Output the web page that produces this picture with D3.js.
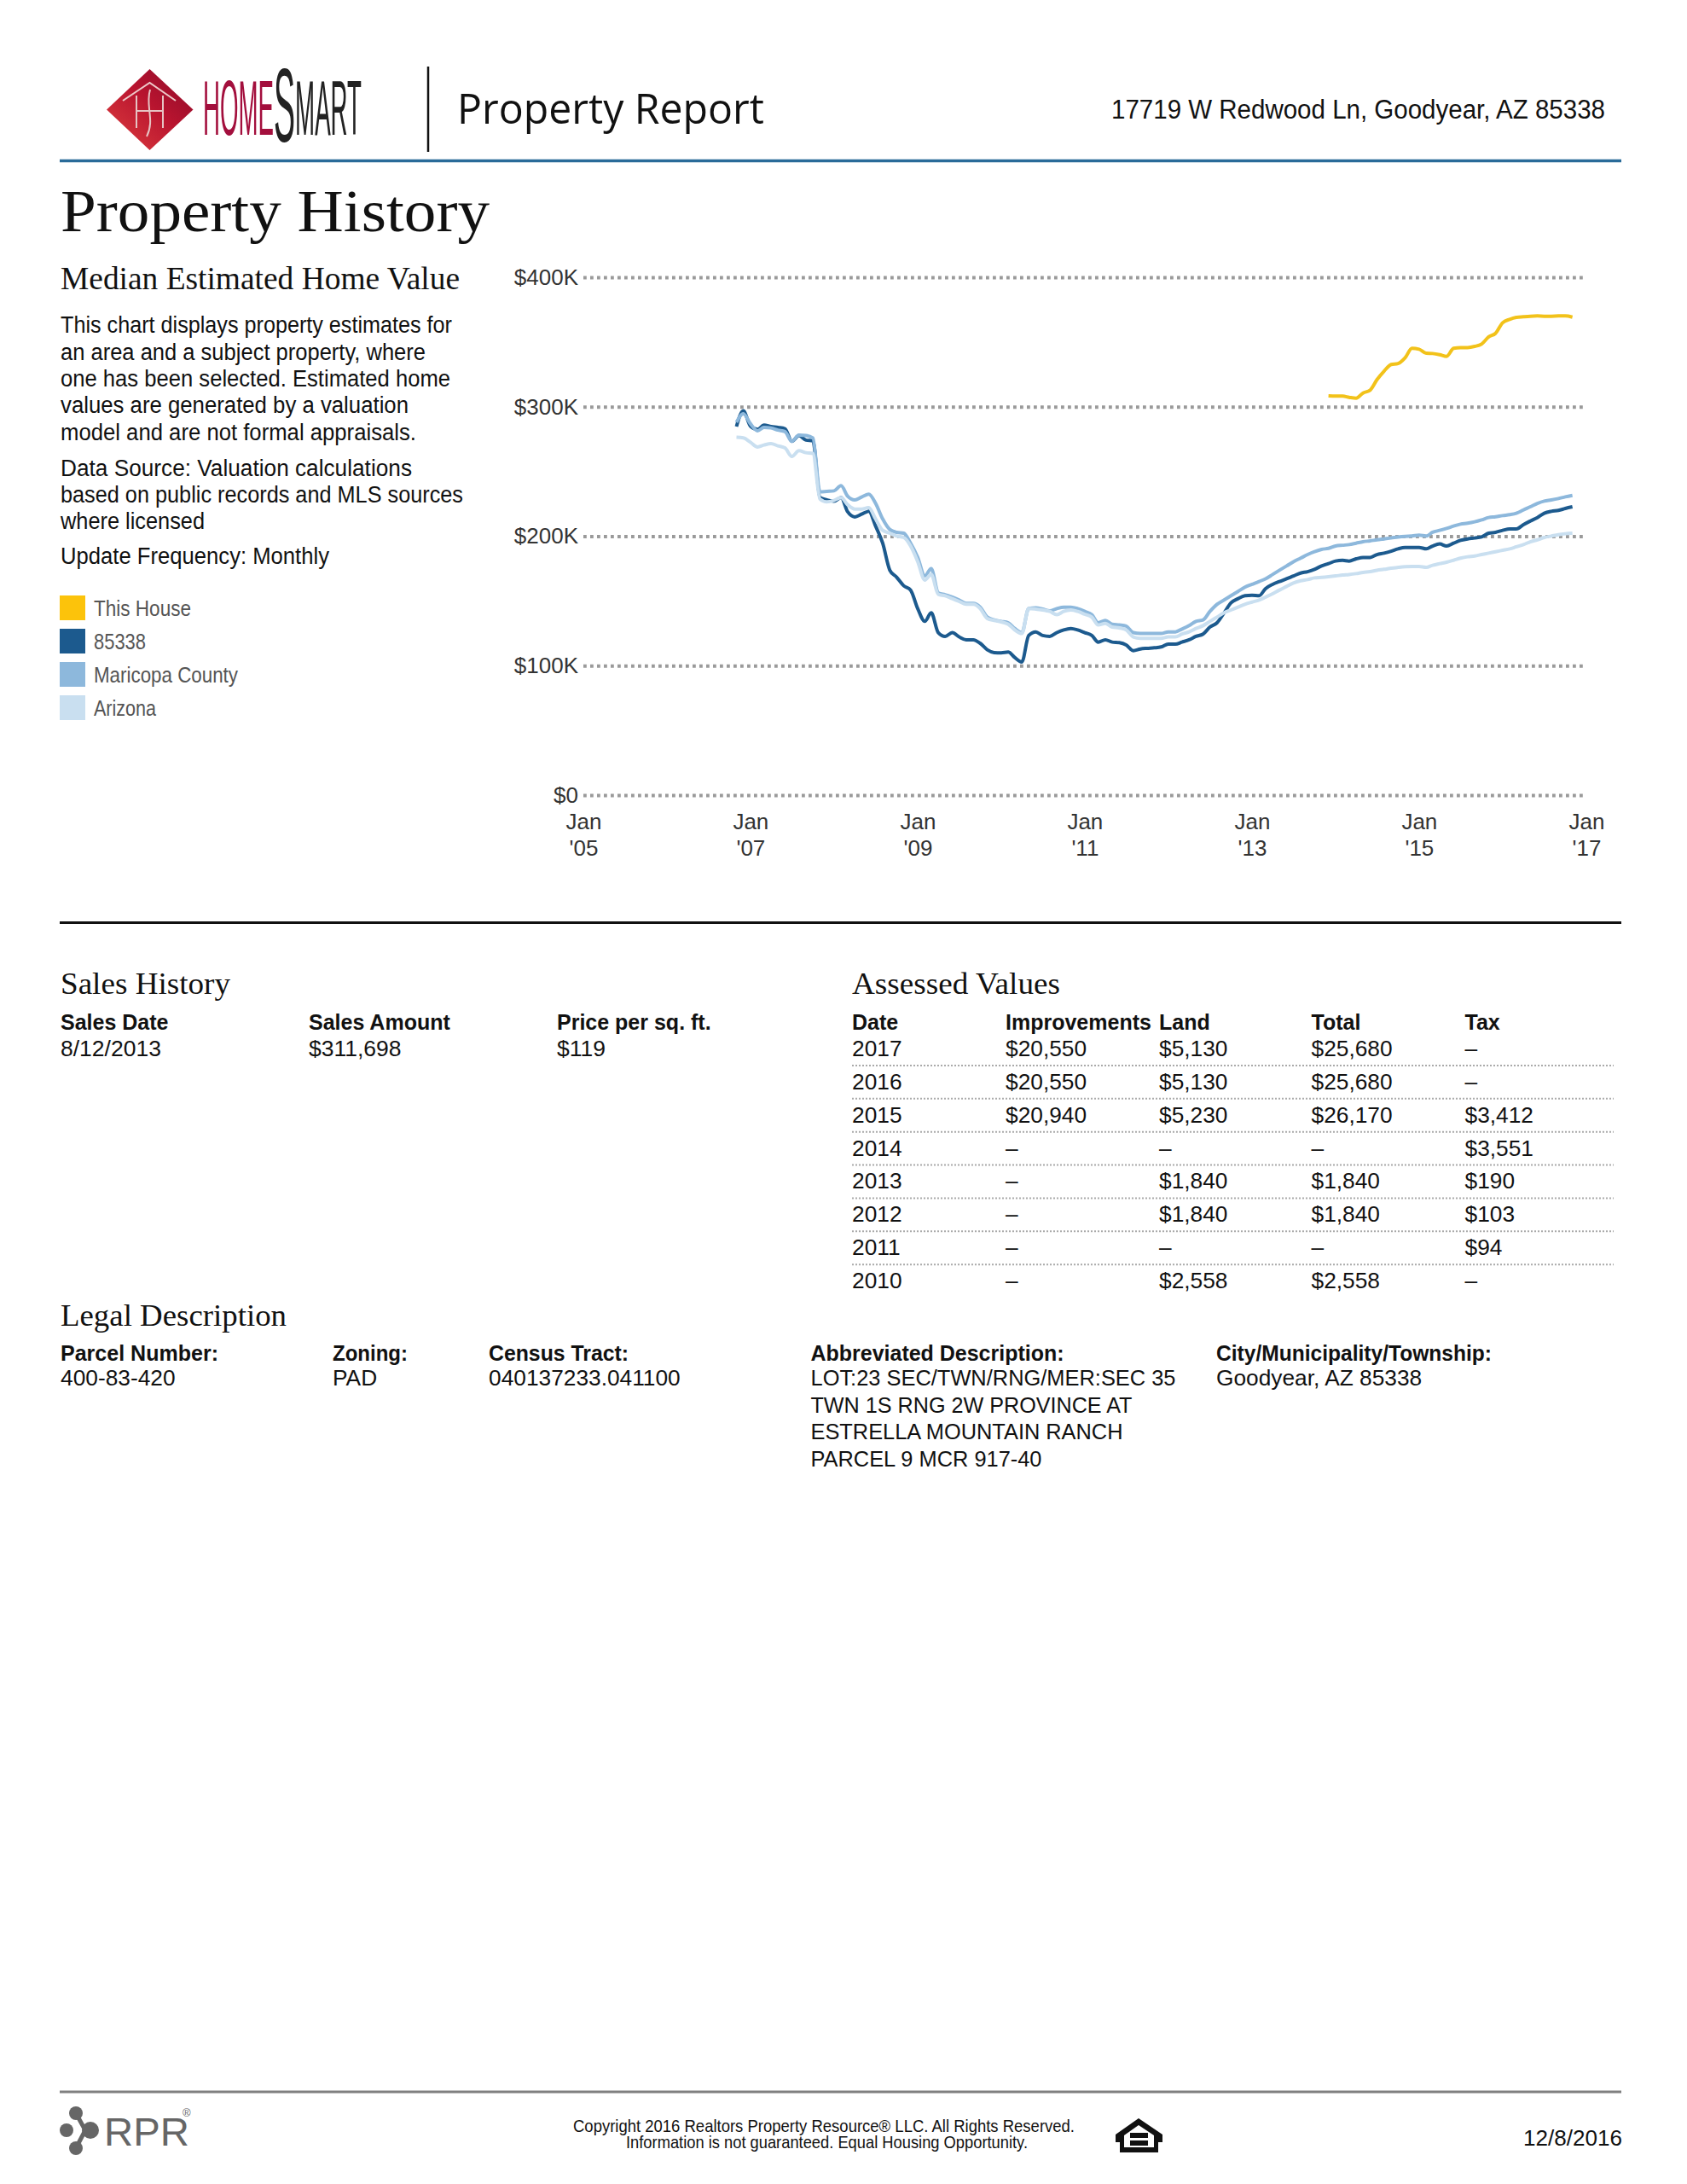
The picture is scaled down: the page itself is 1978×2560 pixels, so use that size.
<!DOCTYPE html>
<html>
<head>
<meta charset="utf-8">
<script src="https://cdn.jsdelivr.net/npm/d3@7"></script>
<style>
  html, body { margin: 0; padding: 0; background: #fff; }
  svg { display: block; }
  text { font-family: "Liberation Sans", Arial, sans-serif; fill: #111; }
</style>
</head>
<body>
<div id="page"></div>
<script>
// values in $K, one per month
const zipStart = [2006, 10];
const zipValues = [284.7, 296.8, 285, 282.5, 285.8, 284.7, 284, 283, 273.3, 277.7, 274.2, 273.7, 229.8, 228, 227, 229.8, 218.8, 214.9, 217, 219.2, 207.8, 194.6, 173.8, 168.3, 161.7, 158.4, 144.1, 134.2, 140.8, 125.5, 122.6, 125.5, 122.2, 120, 120, 117.3, 112.3, 110.1, 109.9, 110.5, 106.3, 102.8, 123.3, 126.1, 123.3, 122.6, 125.5, 127.6, 128.7, 127.6, 125.5, 123.3, 118.2, 120, 118.2, 117.8, 116, 111.6, 112.9, 113.4, 113.8, 114.5, 116.7, 116.7, 118.2, 120, 122.6, 124.4, 129.8, 133.1, 140.8, 148.5, 151.8, 154, 154.4, 154, 159.5, 162.8, 165, 167.1, 169.3, 171.5, 172.6, 174.4, 177, 178.8, 180.8, 181.4, 180.8, 182.5, 183.6, 183.6, 185.8, 186.9, 188.4, 190.2, 191.3, 191.3, 191.3, 190.2, 192.4, 194, 192.4, 194.6, 196.8, 197.9, 198.6, 199.4, 202.3, 203, 204.5, 205.6, 205.6, 208.9, 211.7, 214.4, 217.7, 219.2, 219.9, 221.4, 222.7];
const countyValues = [288, 294.6, 286.9, 281.4, 284, 283.6, 282, 280.8, 273.3, 278.1, 277.7, 275.9, 234.2, 234.6, 235, 239, 230.9, 228, 230.2, 232.4, 225.4, 213.3, 205.2, 203, 202.3, 194.6, 183.7, 169.4, 174.9, 156.2, 154.7, 152.9, 150.7, 148.1, 148.1, 145.2, 137.5, 135.3, 134.2, 133.1, 128.7, 125.5, 144.1, 144.6, 143.7, 142.4, 144.1, 145.2, 145.2, 144.1, 141.9, 139.3, 133.1, 134.9, 132, 131.4, 130.5, 125.5, 124.8, 124.8, 124.8, 124.8, 126.1, 126.1, 128.3, 130.9, 134.2, 135.3, 141.9, 147.4, 150.7, 154, 157.3, 160.6, 162.8, 165, 167.1, 170.4, 173.7, 177, 180.3, 183, 185.8, 188, 189.8, 190.6, 192.4, 193, 193.5, 194.6, 195.7, 196.4, 197.2, 197.9, 198.6, 199.4, 199.9, 200.1, 200.8, 200.1, 203, 204.5, 206, 207.8, 209.3, 210, 211.1, 212.6, 214.4, 215, 215.9, 216.6, 217.7, 220.3, 222.7, 225.3, 227.1, 228, 229.1, 230.4, 231.5];
const stateValues = [276.4, 275.9, 272.6, 268.9, 270.4, 271.5, 269.8, 268.2, 261.6, 266, 264.5, 263.8, 228.7, 226.5, 227.6, 229.8, 224.3, 221, 221, 222.1, 213.3, 204.5, 202.3, 200.1, 199, 192.4, 180.4, 166.1, 170.5, 155.1, 154, 151.8, 149.6, 147.4, 147.4, 144.1, 136.4, 134.9, 133.8, 132, 127.6, 124.8, 144.1, 143.7, 143, 141.9, 139.3, 141.9, 143, 141.9, 139.7, 137.5, 131.4, 132.7, 129.8, 129.2, 127.6, 122.2, 121.1, 121.1, 121.1, 121.1, 122.2, 122.2, 124.4, 126.1, 128.7, 130.9, 134.2, 137.5, 140.8, 143, 145.2, 147.4, 149.1, 150.7, 152.9, 155.5, 158.4, 161.2, 163.9, 165.6, 166.5, 167.8, 168.2, 168.7, 169.3, 170, 170.4, 171.1, 172, 172.6, 173.7, 174.4, 175.3, 175.9, 176.4, 176.6, 176.6, 175.9, 177.5, 178.8, 179.9, 181.4, 183, 184.1, 184.7, 185.8, 186.9, 188, 189.1, 190.2, 191.8, 193.5, 195.7, 197.2, 199, 200.1, 201.2, 201.9, 202.3];
const houseStart = [2013, 11];
const houseValues = [308.4, 308.2, 308.2, 307.3, 306.6, 310.6, 312.8, 320.9, 327.5, 332.6, 333.4, 337.8, 345.1, 344.4, 341.3, 341.1, 340.2, 338.9, 345.1, 345.7, 345.7, 346.6, 348.4, 353.9, 356.7, 364.8, 367.5, 369, 369.5, 369.9, 370.1, 369.9, 369.9, 370.1, 370.1, 369.2];

const legendLabels = ["This House", "85338", "Maricopa County", "Arizona"];
const legendColors = ["#fcc30b", "#1c5a8e", "#8db8dc", "#c9dff0"];
const yTicks = [0, 100, 200, 300, 400];
const xTickYears = [2005, 2007, 2009, 2011, 2013, 2015, 2017];

const introLines = [
    ["This chart displays property estimates for", 459, 390],
    ["an area and a subject property, where", 428, 422],
    ["one has been selected. Estimated home", 457, 453],
    ["values are generated by a valuation", 408, 484],
    ["model and are not formal appraisals.", 417, 516],
    ["Data Source: Valuation calculations", 412, 558],
    ["based on public records and MLS sources", 472, 589],
    ["where licensed", 169, 620],
    ["Update Frequency: Monthly", 315, 661]
];

const salesColumns = ["Sales Date", "Sales Amount", "Price per sq. ft."];
const salesRow = ["8/12/2013", "$311,698", "$119"];

const assessedColumns = ["Date", "Improvements", "Land", "Total", "Tax"];
const assessedRows = [
    ["2017", "$20,550", "$5,130", "$25,680", "–"],
    ["2016", "$20,550", "$5,130", "$25,680", "–"],
    ["2015", "$20,940", "$5,230", "$26,170", "$3,412"],
    ["2014", "–", "–", "–", "$3,551"],
    ["2013", "–", "$1,840", "$1,840", "$190"],
    ["2012", "–", "$1,840", "$1,840", "$103"],
    ["2011", "–", "–", "–", "$94"],
    ["2010", "–", "$2,558", "$2,558", "–"]
];

const legalColumns = [
    ["Parcel Number:", ["400-83-420"]],
    ["Zoning:", ["PAD"]],
    ["Census Tract:", ["040137233.041100"]],
    ["Abbreviated Description:", ["LOT:23 SEC/TWN/RNG/MER:SEC 35", "TWN 1S RNG 2W PROVINCE AT", "ESTRELLA MOUNTAIN RANCH", "PARCEL 9 MCR 917-40"]],
    ["City/Municipality/Township:", ["Goodyear, AZ 85338"]]
];
const abbrevWidths = [428, 377, 366, 271];

const svg = d3.select("#page").append("svg")
    .attr("width", 1978)
    .attr("height", 2560);

// plain text, squeezed to the reference width when one is given
function label(x, y, str, size, opts = {}) {
    const t = svg.append("text")
        .attr("x", x)
        .attr("y", y)
        .style("font-size", size + "px")
        .text(str);
    if (opts.width) t.attr("textLength", opts.width).attr("lengthAdjust", "spacingAndGlyphs");
    if (opts.bold) t.style("font-weight", "bold");
    if (opts.family) t.style("font-family", opts.family);
    if (opts.fill) t.style("fill", opts.fill);
    return t;
}

function rule(x1, x2, y, color, w) {
    svg.append("line")
        .attr("x1", x1).attr("x2", x2)
        .attr("y1", y).attr("y2", y)
        .attr("stroke", color)
        .attr("stroke-width", w);
}

const serif = '"Liberation Serif", serif';

// header logo
const defs = svg.append("defs");
const grad = defs.append("linearGradient").attr("id", "diamond")
    .attr("x1", "0").attr("y1", "1").attr("x2", "1").attr("y2", "0");
grad.append("stop").attr("offset", "0").attr("stop-color", "#e0403f");
grad.append("stop").attr("offset", "0.55").attr("stop-color", "#b8142f");
grad.append("stop").attr("offset", "1").attr("stop-color", "#8a0a2a");

svg.append("path")
    .attr("d", "M175.5,81 L226.5,128.5 L175.5,176 L125,128.5 Z")
    .attr("fill", "url(#diamond)");
svg.append("path")
    .attr("d", "M144,118 L175.5,97 L206,118")
    .attr("fill", "none").attr("stroke", "#eec9c9").attr("stroke-width", 2);
svg.append("path")
    .attr("d", "M160,112 V150 M191,112 V150 M160,130 H191 M176,105 C170,125 182,140 172,160")
    .attr("fill", "none").attr("stroke", "#e6c4c4").attr("stroke-width", 2);

// one text element so the wordmark squeezes as a whole
const wordmark = svg.append("text")
    .attr("x", 238)
    .attr("y", 158)
    .attr("textLength", 186)
    .attr("lengthAdjust", "spacingAndGlyphs")
    .style("font-size", "90px");
wordmark.append("tspan").style("fill", "#a30f3d").text("HOME");
wordmark.append("tspan").attr("dy", 8).style("font-size", "122px").style("fill", "#222").text("S");
wordmark.append("tspan").attr("dy", -8).style("fill", "#222").text("MART");

svg.append("line")
    .attr("x1", 502).attr("x2", 502)
    .attr("y1", 78).attr("y2", 178)
    .attr("stroke", "#111").attr("stroke-width", 2.5);

label(536, 145, "Property Report", 50, { width: 360, family: '"Open Sans", sans-serif', fill: "#111" });
label(1303, 139, "17719 W Redwood Ln, Goodyear, AZ 85338", 31, { width: 579 });
rule(70, 1901, 188.5, "#2a6b99", 3.5);

label(71, 271, "Property History", 70, { width: 503, family: serif });
label(71, 339, "Median Estimated Home Value", 37, { width: 468, family: serif });

introLines.forEach(d => label(71, d[2], d[0], 27, { width: d[1] }));

// legend
const legendY = d3.scalePoint().domain(legendLabels).range([698, 815]);
const legendWidths = [114, 61, 169, 73];
svg.selectAll("rect.legend")
    .data(legendLabels)
    .enter()
    .append("rect")
    .attr("class", "legend")
    .attr("x", 70)
    .attr("y", d => legendY(d))
    .attr("width", 30)
    .attr("height", 29)
    .attr("fill", (d, i) => legendColors[i]);
legendLabels.forEach((d, i) => label(110, legendY(d) + 24, d, 25, { width: legendWidths[i], fill: "#555" }));

// chart
const x = d3.scaleTime()
    .domain([new Date(2005, 0, 1), new Date(2017, 0, 1)])
    .range([684, 1860]);
const y = d3.scaleLinear()
    .domain([0, 400])
    .range([932, 325]);

const yAxis = d3.axisLeft(y)
    .tickValues(yTicks)
    .tickSize(-1176)
    .tickPadding(6)
    .tickFormat(d => d === 0 ? "$0" : `$${d}K`);

const yG = svg.append("g")
    .attr("transform", "translate(684,0)")
    .call(yAxis);
yG.select(".domain").remove();
yG.selectAll(".tick line")
    .attr("stroke", "#9a9a9a")
    .attr("stroke-width", 4)
    .attr("stroke-dasharray", "3.8,4.2");
yG.selectAll(".tick text")
    .style("font-size", "26px")
    .style("fill", "#333");

const xAxis = d3.axisBottom(x)
    .tickValues(xTickYears.map(yr => new Date(yr, 0, 1)))
    .tickSize(0)
    .tickFormat(() => "");

const xG = svg.append("g")
    .attr("transform", "translate(0,932)")
    .call(xAxis);
xG.select(".domain").remove();
xG.selectAll(".tick text").remove();
xG.selectAll(".tick").each(function (d) {
    const t = d3.select(this).append("text")
        .attr("text-anchor", "middle")
        .style("font-size", "26px")
        .style("fill", "#333");
    t.append("tspan").attr("x", 0).attr("y", 40).text("Jan");
    t.append("tspan").attr("x", 0).attr("y", 71).text("'" + String(d.getFullYear()).slice(2));
});

const line = d3.line()
    .x(d => x(d.date))
    .y(d => y(d.value))
    .curve(d3.curveMonotoneX);

function toSeries(start, values) {
    return values.map((value, i) => ({
        date: new Date(start[0], start[1] + i, 1),
        value
    }));
}

const seriesList = [
    { values: toSeries(houseStart, houseValues), color: "#f2c21a", w: 4 },
    { values: toSeries(zipStart, zipValues), color: legendColors[1], w: 4 },
    { values: toSeries(zipStart, countyValues), color: legendColors[2], w: 4 },
    { values: toSeries(zipStart, stateValues), color: legendColors[3], w: 4 }
];

svg.selectAll("path.series")
    .data(seriesList)
    .enter()
    .append("path")
    .attr("class", "series")
    .attr("fill", "none")
    .attr("stroke", d => d.color)
    .attr("stroke-width", d => d.w)
    .attr("stroke-linejoin", "round")
    .attr("d", d => line(d.values));

rule(70, 1901, 1081.5, "#111", 3);

// sales history
label(71, 1165, "Sales History", 36, { width: 199, family: serif });
const salesX = [71, 362, 653];
salesColumns.forEach((d, i) => {
    label(salesX[i], 1207, d, 25, { bold: true });
    label(salesX[i], 1238, salesRow[i], 26.5);
});

// assessed values
label(999, 1165, "Assessed Values", 36, { width: 244, family: serif });
const assessedX = [999, 1179, 1359, 1537.5, 1717.5];
const rowY = d3.scaleLinear().domain([0, 7]).range([1238, 1510]);
assessedColumns.forEach((d, i) => label(assessedX[i], 1207, d, 25, { bold: true }));
assessedRows.forEach((row, r) => {
    row.forEach((cell, c) => label(assessedX[c], rowY(r), cell, 26.3));
    if (r < assessedRows.length - 1) {
        svg.append("line")
            .attr("x1", 999).attr("x2", 1892)
            .attr("y1", rowY(r) + 11).attr("y2", rowY(r) + 11)
            .attr("stroke", "#aaa")
            .attr("stroke-width", 2)
            .attr("stroke-dasharray", "2,2");
    }
});

// legal description
label(71, 1554, "Legal Description", 36, { width: 265, family: serif });
const legalX = [71, 390, 573, 950.5, 1426];
const legalHeadWidths = [185, 88, 164, 297, 323];
legalColumns.forEach((col, i) => {
    label(legalX[i], 1595, col[0], 25, { bold: true, width: legalHeadWidths[i] });
    col[1].forEach((str, j) => {
        const opts = i === 3 ? { width: abbrevWidths[j] } : {};
        label(legalX[i], 1624 + j * 31.5, str, 26.3, opts);
    });
});

// footer
rule(70, 1901, 2452, "#808080", 3);

const rprNodes = [[89, 2477, 8], [78, 2497, 8], [106, 2497, 10], [89, 2518, 8]];
svg.append("path")
    .attr("d", "M89,2477 L100,2497 L89,2518")
    .attr("fill", "none").attr("stroke", "#666").attr("stroke-width", 5);
svg.selectAll("circle.rpr")
    .data(rprNodes)
    .enter()
    .append("circle")
    .attr("class", "rpr")
    .attr("cx", d => d[0])
    .attr("cy", d => d[1])
    .attr("r", d => d[2])
    .attr("fill", "#666");
label(122, 2515, "RPR", 46, { width: 100, fill: "#666" });
label(214, 2481, "®", 13, { fill: "#666" });

label(672, 2499, "Copyright 2016 Realtors Property Resource® LLC. All Rights Reserved.", 21, { width: 588 });
label(734, 2518, "Information is not guaranteed. Equal Housing Opportunity.", 21, { width: 471 });

// equal housing icon
svg.append("path")
    .attr("fill", "#111")
    .attr("fill-rule", "evenodd")
    .attr("d", "M1335,2483 L1363,2502 L1363,2511 L1358,2511 L1358,2523 L1313,2523 L1313,2511 L1308,2511 L1308,2502 Z M1335,2491 L1318,2503 L1318,2517 L1353,2517 L1353,2503 Z M1325,2500 H1346 V2506 H1325 Z M1325,2509 H1346 V2515 H1325 Z");

label(1786, 2515, "12/8/2016", 26, { width: 116 });
</script>
</body>
</html>
